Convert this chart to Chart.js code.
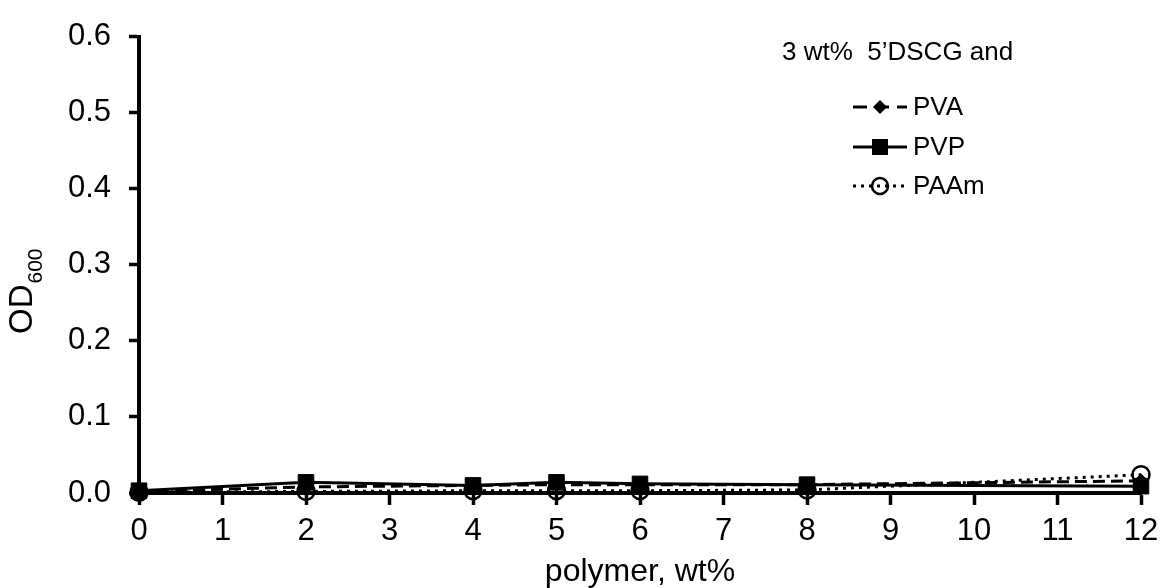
<!DOCTYPE html>
<html>
<head>
<meta charset="utf-8">
<script src="https://cdn.jsdelivr.net/npm/chart.js@4.4.0/dist/chart.umd.min.js"></script>
<style>
  html, body { margin: 0; padding: 0; background: #fff; }
  #wrap { width: 1161px; height: 588px; }
</style>
</head>
<body>
<div id="wrap"><canvas id="chart" width="1161" height="588"></canvas></div>
<script>
// polymer concentration, wt%
const polymerWt = [0, 2, 4, 5, 6, 8, 12];
// OD600
const odPVA  = [0.002, 0.008, 0.010, 0.011, 0.011, 0.011, 0.016];
const odPVP  = [0.003, 0.014, 0.010, 0.014, 0.012, 0.011, 0.009];
const odPAAm = [0.001, 0.002, 0.003, 0.003, 0.003, 0.004, 0.024];

const legendTitle = '3 wt%  5\u2019DSCG and';
const seriesNames = ['PVA', 'PVP', 'PAAm'];

const FONT = '"Liberation Sans", Arial, sans-serif';

function toPoints(ys) {
    return polymerWt.map((x, i) => ({ x: x, y: ys[i] }));
}

// legend marker, drawn to look like the plotted points
function drawMarker(ctx, style, x, y) {
    ctx.save();
    ctx.fillStyle = '#000';
    ctx.strokeStyle = '#000';
    ctx.setLineDash([]);
    if (style === 'rectRot') {
        const r = 7;
        ctx.beginPath();
        ctx.moveTo(x, y - r); ctx.lineTo(x + r, y); ctx.lineTo(x, y + r); ctx.lineTo(x - r, y);
        ctx.closePath();
        ctx.fill();
    } else if (style === 'rect') {
        ctx.fillRect(x - 8, y - 8, 16, 16);
    } else {
        ctx.lineWidth = 2.5;
        ctx.beginPath();
        ctx.arc(x, y, 8, 0, Math.PI * 2);
        ctx.stroke();
    }
    ctx.restore();
}

const decorPlugin = {
    id: 'decor',
    afterDraw(chart) {
        const ctx = chart.ctx;
        const area = chart.chartArea;

        // y title: OD with subscript 600
        ctx.save();
        ctx.fillStyle = '#000';
        ctx.translate(23, 334);
        ctx.rotate(-Math.PI / 2);
        ctx.font = '33px ' + FONT;
        ctx.textBaseline = 'middle';
        ctx.textAlign = 'left';
        const odW = ctx.measureText('OD').width;
        ctx.fillText('OD', 0, 0);
        ctx.font = '21px ' + FONT;
        ctx.fillText('600', odW + 1, 13);
        ctx.restore();

        // x title
        ctx.save();
        ctx.fillStyle = '#000';
        ctx.font = '32px ' + FONT;
        ctx.textAlign = 'center';
        ctx.textBaseline = 'middle';
        ctx.fillText('polymer, wt%', (area.left + area.right) / 2, 572);
        ctx.restore();

        // legend
        ctx.save();
        ctx.fillStyle = '#000';
        ctx.font = '26px ' + FONT;
        ctx.textBaseline = 'middle';
        ctx.textAlign = 'left';
        ctx.fillText(legendTitle, 782, 53);
        const rowsY = [107, 147, 186];
        chart.data.datasets.forEach((ds, i) => {
            const y = rowsY[i];
            ctx.save();
            ctx.strokeStyle = '#000';
            ctx.lineWidth = ds.borderWidth;
            ctx.setLineDash(ds.legendDash || []);
            ctx.beginPath();
            ctx.moveTo(853, y);
            ctx.lineTo(907, y);
            ctx.stroke();
            ctx.restore();
            drawMarker(ctx, ds.pointStyle, 880, y);
            ctx.fillText(ds.label, 913, y + 1);
        });
        ctx.restore();
    }
};

const ctx = document.getElementById('chart').getContext('2d');
new Chart(ctx, {
    type: 'line',
    data: {
        datasets: [
            {
                label: seriesNames[0],
                data: toPoints(odPVA),
                borderColor: '#000',
                backgroundColor: '#000',
                borderWidth: 3,
                borderDash: [12, 6],
                legendDash: [14, 8],
                pointStyle: 'rectRot',
                pointRadius: 7,
                pointBorderWidth: 1
            },
            {
                label: seriesNames[1],
                data: toPoints(odPVP),
                borderColor: '#000',
                backgroundColor: '#000',
                borderWidth: 3,
                pointStyle: 'rect',
                pointRadius: 11,
                pointBorderWidth: 1
            },
            {
                label: seriesNames[2],
                data: toPoints(odPAAm),
                borderColor: '#000',
                backgroundColor: 'rgba(0,0,0,0)',
                borderWidth: 3,
                borderDash: [3, 5],
                legendDash: [3, 5],
                pointStyle: 'circle',
                pointRadius: 8.5,
                pointBorderWidth: 2.5
            }
        ]
    },
    options: {
        responsive: false,
        animation: false,
        clip: false,
        layout: { padding: { left: 0, right: 20, top: 29, bottom: 0 } },
        plugins: {
            legend: { display: false },
            tooltip: { enabled: false }
        },
        scales: {
            x: {
                type: 'linear',
                min: 0,
                max: 12,
                afterFit: s => {
                    s.height = 95;
                    s.paddingLeft = 0;
                    s.paddingRight = 0;
                },
                ticks: {
                    stepSize: 1,
                    color: '#000',
                    padding: 8,
                    font: { family: FONT, size: 31 }
                },
                grid: {
                    display: true,
                    drawOnChartArea: false,
                    drawTicks: true,
                    tickLength: 12,
                    tickWidth: 3.5,
                    tickColor: '#000'
                },
                border: { display: true, color: '#000', width: 4 }
            },
            y: {
                min: 0,
                max: 0.6,
                afterFit: s => { s.width = 139; },
                ticks: {
                    stepSize: 0.1,
                    color: '#000',
                    padding: 18,
                    font: { family: FONT, size: 31 },
                    callback: v => v.toFixed(1)
                },
                grid: {
                    display: true,
                    drawOnChartArea: false,
                    drawTicks: true,
                    tickLength: 10,
                    tickWidth: 3.5,
                    tickColor: '#000'
                },
                border: { display: true, color: '#000', width: 4 }
            }
        }
    },
    plugins: [decorPlugin]
});
</script>
</body>
</html>
